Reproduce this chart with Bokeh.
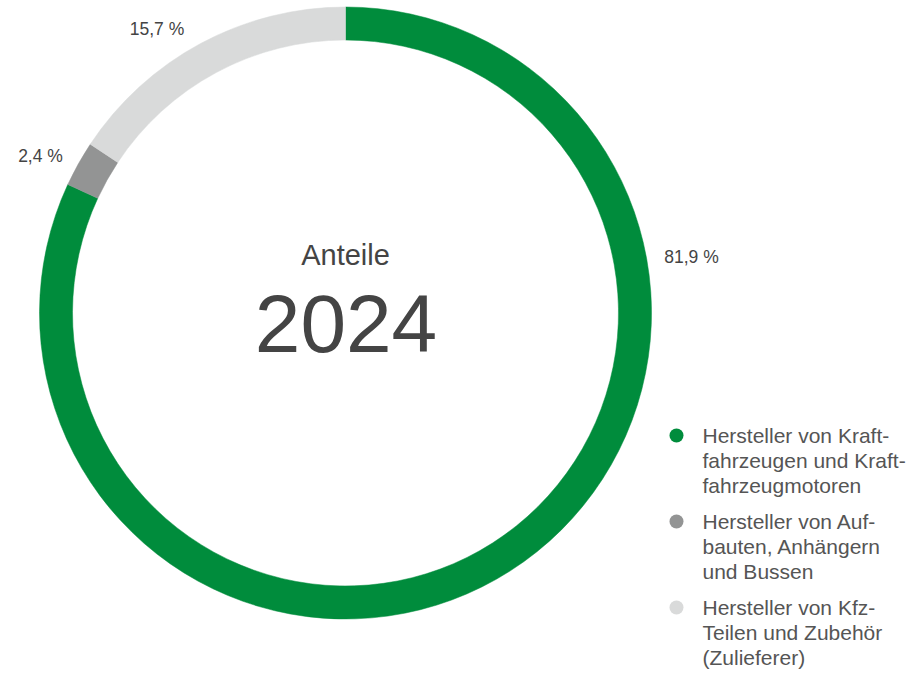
import math
from bokeh.plotting import figure
from bokeh.models import Range1d, ColumnDataSource
from bokeh.embed import file_html
from bokeh.resources import INLINE
from bokeh.core.properties import value

# ---- data ----
categories = [
    "Hersteller von Kraftfahrzeugen und Kraftfahrzeugmotoren",
    "Hersteller von Aufbauten, Anhängern und Bussen",
    "Hersteller von Kfz-Teilen und Zubehör (Zulieferer)",
]
shares = [81.9, 2.4, 15.7]
share_labels = ["81,9 %", "2,4 %", "15,7 %"]
legend_lines = [
    ["Hersteller von Kraft-", "fahrzeugen und Kraft-", "fahrzeugmotoren"],
    ["Hersteller von Auf-", "bauten, Anhängern", "und Bussen"],
    ["Hersteller von Kfz-", "Teilen und Zubehör", "(Zulieferer)"],
]
colors = ["#008C3C", "#939494", "#D9DADA"]
center_title = "Anteile"
center_year = "2024"

# ---- layout (picture pixel coords, y measured from top) ----
W, H = 910, 677
FONT = value("Liberation Sans")
TEXT_COLOR = "#444444"
K = 0.37  # baseline correction factor (fraction of font size)


def Y(y_img, fs=0.0):
    return H - (y_img - K * fs)


p = figure(width=W, height=H, output_backend="svg", toolbar_location=None,
           x_range=Range1d(0, W), y_range=Range1d(0, H), min_border=0)
p.axis.visible = False
p.grid.visible = False
p.outline_line_color = None
p.background_fill_color = "white"
p.border_fill_color = "white"

cx, cy = 345, Y(312.5)
r_out, r_in = 306, 273

total = sum(shares)
starts, ends = [], []
acc = 0.0
for s in shares:
    starts.append(math.pi / 2 - 2 * math.pi * acc / total)
    acc += s
    ends.append(math.pi / 2 - 2 * math.pi * acc / total)

src = ColumnDataSource(dict(x=[cx] * len(shares), y=[cy] * len(shares),
                            start=starts, end=ends, color=colors))
p.annular_wedge(x="x", y="y", inner_radius=r_in, outer_radius=r_out,
                start_angle="start", end_angle="end", direction="clock",
                fill_color="color", line_color="color", line_width=0.5,
                source=src)

# percentage labels
fs_lab = 17.5
label_pos = [(691, 263), (40, 161.5), (156.5, 34.5)]
p.text(x=[pt[0] for pt in label_pos], y=[Y(pt[1], fs_lab) for pt in label_pos],
       text=share_labels, text_font=FONT, text_font_size=f"{fs_lab}px",
       text_color=TEXT_COLOR, text_align="center", text_baseline="alphabetic")

# center texts
p.text(x=[cx], y=[Y(265, 29)], text=[center_title], text_font=FONT,
       text_font_size="29px", text_color=TEXT_COLOR,
       text_align="center", text_baseline="alphabetic")
p.text(x=[cx + 0.5], y=[Y(353, 82)], text=[center_year], text_font=FONT,
       text_font_size="82px", text_color=TEXT_COLOR,
       text_align="center", text_baseline="alphabetic")

# legend
fs_leg = 21
leg_x_marker, leg_x_text = 676, 702
leg_y0, leg_gap, line_h = 435, 86, 25
mx, my = [], []
tx, ty, tt = [], [], []
for i, lines in enumerate(legend_lines):
    yc = leg_y0 + i * leg_gap
    mx.append(leg_x_marker)
    my.append(Y(yc))
    for j, ln in enumerate(lines):
        tx.append(leg_x_text)
        ty.append(Y(yc + 8 + j * line_h, fs_leg))
        tt.append(ln)
p.scatter(x=mx, y=my, size=14, marker="circle", fill_color=colors,
          line_color=None)
p.text(x=tx, y=ty, text=tt, text_font=FONT, text_font_size=f"{fs_leg}px",
       text_color="#555555", text_align="left", text_baseline="alphabetic")

open("out.html", "w").write(file_html(p, INLINE))
